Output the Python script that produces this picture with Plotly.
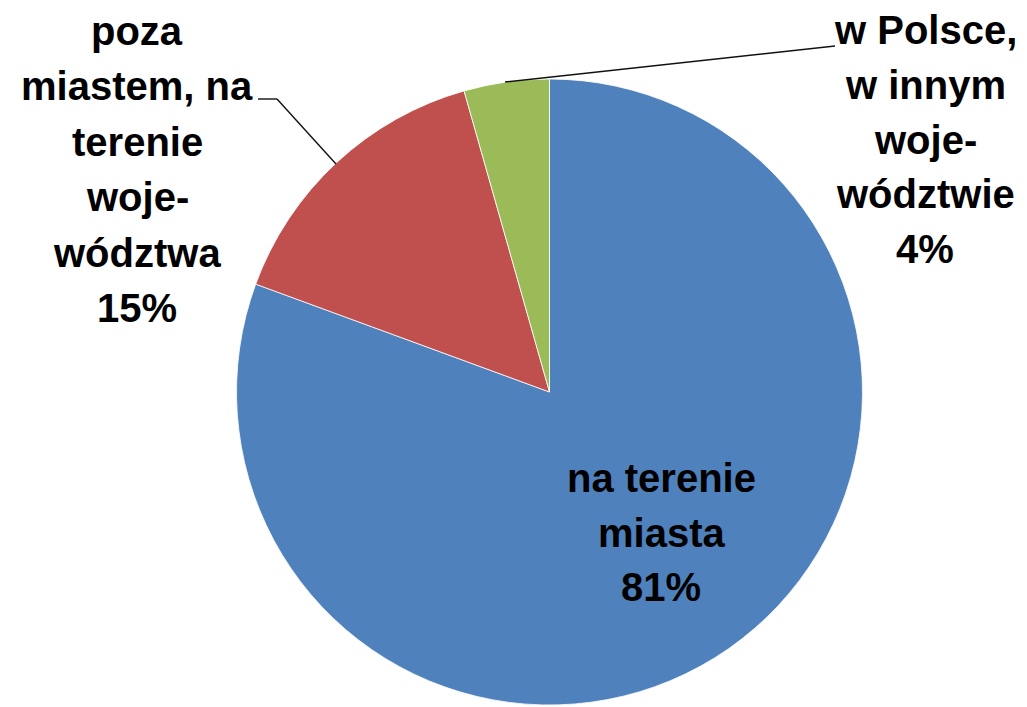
import plotly.graph_objects as go

# ---- data ----
categories = ["na terenie miasta",
              "poza miastem, na terenie województwa",
              "w Polsce, w innym województwie"]
values = [80.6, 15.0, 4.4]
colors = ["#4F81BD", "#C0504D", "#9BBB59"]
# label lines as printed on the chart (with hyphenation)
label_lines = [
    ["na terenie", "miasta"],
    ["poza", "miastem, na", "terenie", "woje-", "wództwa"],
    ["w Polsce,", "w innym", "woje-", "wództwie"],
]

W, H = 1027, 707
OX, OY = 8, 8  # page body margin compensation
total = sum(values)
pct = [f"{round(v / total * 100)}%" for v in values]

def fx(x):
    return (x - OX) / W

def fy(y):
    return 1 - (y - OY) / H

fig = go.Figure(go.Pie(
    labels=categories,
    values=values,
    sort=False,
    direction="clockwise",
    rotation=0,
    marker=dict(colors=colors, line=dict(color="#FFFFFF", width=0.8)),
    textinfo="none",
    hoverinfo="label+percent",
    showlegend=False,
    domain=dict(x=[fx(236.5), fx(862.5)], y=[fy(705), fy(79)]),
))

# label placement (pixel layout: centre x, first baseline, line step)
label_pos = [(661, 492, 54.5), (137, 45, 55.4), (925, 44, 54.8)]
FS = 40
annotations = []
for lines, p, (cx, by, step) in zip(label_lines, pct, label_pos):
    for i, t in enumerate(lines + [p]):
        base = by + i * step
        annotations.append(dict(
            x=fx(cx), y=fy(base - 0.35 * FS),
            xref="paper", yref="paper",
            xanchor="center", yanchor="middle",
            text=t, showarrow=False,
            font=dict(family="Liberation Sans", size=FS, color="#000000", weight="bold"),
        ))

shapes = []
leader_paths = [
    [(258, 99), (277, 99), (336, 164)],
    [(505, 82), (835, 46)],
]
for path in leader_paths:
    for (x0, y0), (x1, y1) in zip(path[:-1], path[1:]):
        shapes.append(dict(type="line", xref="paper", yref="paper",
                           x0=fx(x0), y0=fy(y0), x1=fx(x1), y1=fy(y1),
                           line=dict(color="#111111", width=1.4)))

fig.update_layout(
    width=W, height=H,
    margin=dict(l=0, r=0, t=0, b=0),
    paper_bgcolor="#FFFFFF",
    plot_bgcolor="#FFFFFF",
    annotations=annotations,
    shapes=shapes,
)

fig.write_html("out.html")
